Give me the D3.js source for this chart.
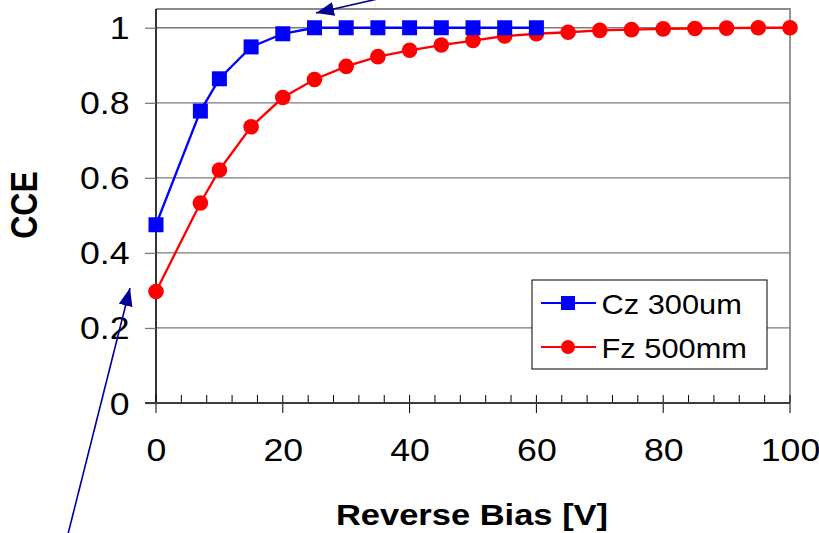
<!DOCTYPE html>
<html>
<head>
<meta charset="utf-8">
<script src="https://cdn.jsdelivr.net/npm/d3@7"></script>
<style>
  html, body { margin: 0; padding: 0; background: #fff; }
  svg { display: block; font-family: "Liberation Sans", Arial, sans-serif; }
</style>
</head>
<body>
<svg id="chart" width="819" height="533"></svg>
<script>
// Charge collection efficiency vs reverse bias
const czBias = [0, 7, 10, 15, 20, 25, 30, 35, 40, 45, 50, 55, 60];
const czCCE  = [0.475, 0.778, 0.864, 0.949, 0.984, 1, 1, 1, 1, 1, 1, 1, 1];
const fzBias = [0, 7, 10, 15, 20, 25, 30, 35, 40, 45, 50, 55, 60, 65, 70, 75, 80, 85, 90, 95, 100];
const fzCCE  = [0.297, 0.533, 0.621, 0.736, 0.814, 0.862, 0.897, 0.923, 0.940, 0.954, 0.966,
                0.978, 0.984, 0.988, 0.993, 0.995, 0.997, 0.998, 0.999, 1, 1];
const xTicks = [0, 20, 40, 60, 80, 100];
const yTicks = [0, 0.2, 0.4, 0.6, 0.8, 1];
const seriesNames = ["Cz 300um", "Fz 500mm"];

const svg = d3.select("#chart");
const pL = 156, pR = 790, pT = 9, pB = 403;
const FONT = "Liberation Sans, Arial, sans-serif";
const WIDE = 1.15;   // horizontal stretch of the lettering

const x = d3.scaleLinear().domain([0, 100]).range([pL, pR]);
const y = d3.scaleLinear().domain([0, 1.05]).range([pB, pT]);

// horizontal grid lines
svg.append("g").selectAll("line").data(yTicks.slice(1)).join("line")
  .attr("x1", pL).attr("x2", pR)
  .attr("y1", d => y(d)).attr("y2", d => y(d))
  .attr("stroke", "#7a7a7a").attr("stroke-width", 1.3);

// plot frame (top and right)
svg.append("path")
  .attr("d", `M${pL},${pT}H${pR}V${pB}`)
  .attr("fill", "none").attr("stroke", "#8a8a8a").attr("stroke-width", 1.8);

// y axis
const yAxis = svg.append("g").attr("transform", `translate(${pL},0)`)
  .call(d3.axisLeft(y).tickValues(yTicks).tickSize(11).tickPadding(15)
        .tickFormat(d => d3.format("~g")(d)));
yAxis.select(".domain").attr("stroke", "#000").attr("stroke-width", 1.6)
  .attr("d", `M0,${pT}V${pB}`);
yAxis.selectAll(".tick line").attr("stroke", "#7a7a7a").attr("stroke-width", 1.3);
yAxis.selectAll(".tick text").attr("font-size", 31).attr("fill", "#000")
  .attr("font-family", FONT).attr("dy", "0.355em")
  .attr("x", 0).attr("transform", `translate(-26.5,0) scale(${WIDE},1)`);

// x axis: minor ticks every 4 V inside the plot, major ticks crossing the axis
const minor = d3.range(0, 101, 4).filter(v => v % 20 !== 0);
svg.append("g").selectAll("line").data(minor).join("line")
  .attr("x1", d => x(d)).attr("x2", d => x(d))
  .attr("y1", pB - 8).attr("y2", pB)
  .attr("stroke", "#000").attr("stroke-width", 1);
svg.append("g").selectAll("line").data(xTicks).join("line")
  .attr("x1", d => x(d)).attr("x2", d => x(d))
  .attr("y1", pB - 8).attr("y2", pB + 10)
  .attr("stroke", "#000").attr("stroke-width", 1);
const xAxis = svg.append("g").attr("transform", `translate(0,${pB})`)
  .call(d3.axisBottom(x).tickValues(xTicks).tickSize(0).tickPadding(36));
xAxis.select(".domain").attr("stroke", "#3c3c3c").attr("stroke-width", 2)
  .attr("d", `M${pL - 11},0H${pR}`);
xAxis.selectAll(".tick text").attr("font-size", 31).attr("fill", "#000")
  .attr("font-family", FONT).attr("transform", `scale(${WIDE},1)`);

// axis titles
svg.append("text").attr("transform", `translate(472,524.5) scale(${WIDE},1)`)
  .attr("text-anchor", "middle")
  .attr("font-size", 30).attr("font-weight", "bold").attr("font-family", FONT)
  .text("Reverse Bias [V]");
svg.append("text").attr("transform", `translate(37,205) scale(${WIDE},1) rotate(-90)`)
  .attr("text-anchor", "middle").attr("font-size", 32).attr("font-weight", "bold")
  .attr("font-family", FONT).text("CCE");

const line = d3.line().x(d => x(d[0])).y(d => y(d[1]));
const czData = czBias.map((b, i) => [b, czCCE[i]]);
const fzData = fzBias.map((b, i) => [b, fzCCE[i]]);

// Fz series (red circles)
svg.append("path").datum(fzData).attr("d", line)
  .attr("fill", "none").attr("stroke", "#ff0000").attr("stroke-width", 2.3);
svg.append("g").selectAll("circle").data(fzData).join("circle")
  .attr("cx", d => x(d[0])).attr("cy", d => y(d[1])).attr("r", 7.8)
  .attr("fill", "#ff0000");

// Cz series (blue squares)
const sq = 15;
svg.append("path").datum(czData).attr("d", line)
  .attr("fill", "none").attr("stroke", "#0000ff").attr("stroke-width", 2.3);
svg.append("g").selectAll("rect").data(czData).join("rect")
  .attr("x", d => x(d[0]) - sq / 2).attr("y", d => y(d[1]) - sq / 2)
  .attr("width", sq).attr("height", sq).attr("fill", "#0000ff");

// legend
const lg = svg.append("g");
lg.append("rect").attr("x", 532).attr("y", 280).attr("width", 235).attr("height", 89)
  .attr("fill", "#fff").attr("stroke", "#000").attr("stroke-width", 1);
const rows = [
  { name: seriesNames[0], color: "#0000ff", shape: "square", yy: 303 },
  { name: seriesNames[1], color: "#ff0000", shape: "circle", yy: 347 }
];
rows.forEach(r => {
  lg.append("line").attr("x1", 541).attr("x2", 596).attr("y1", r.yy).attr("y2", r.yy)
    .attr("stroke", r.color).attr("stroke-width", 2);
  if (r.shape === "square") {
    lg.append("rect").attr("x", 568 - 7).attr("y", r.yy - 7).attr("width", 14).attr("height", 14)
      .attr("fill", r.color);
  } else {
    lg.append("circle").attr("cx", 568).attr("cy", r.yy).attr("r", 7).attr("fill", r.color);
  }
  lg.append("text").attr("transform", `translate(601.5,${r.yy + 10.5}) scale(1.12,1)`)
    .attr("font-size", 27.5).attr("font-family", FONT).text(r.name);
});

// annotation arrows
const defs = svg.append("defs");
defs.append("marker").attr("id", "head").attr("viewBox", "0 0 18 14")
  .attr("refX", 18).attr("refY", 7)
  .attr("markerUnits", "userSpaceOnUse").attr("orient", "auto")
  .attr("markerWidth", 18).attr("markerHeight", 14)
  .append("path").attr("d", "M0,0L18,7L0,14Z").attr("fill", "#000099");
svg.append("line").attr("x1", 417).attr("y1", -10).attr("x2", 316).attr("y2", 13)
  .attr("stroke", "#000099").attr("stroke-width", 1.6).attr("marker-end", "url(#head)");
svg.append("line").attr("x1", 68).attr("y1", 534).attr("x2", 130).attr("y2", 288)
  .attr("stroke", "#000099").attr("stroke-width", 1.6).attr("marker-end", "url(#head)");
</script>
</body>
</html>
